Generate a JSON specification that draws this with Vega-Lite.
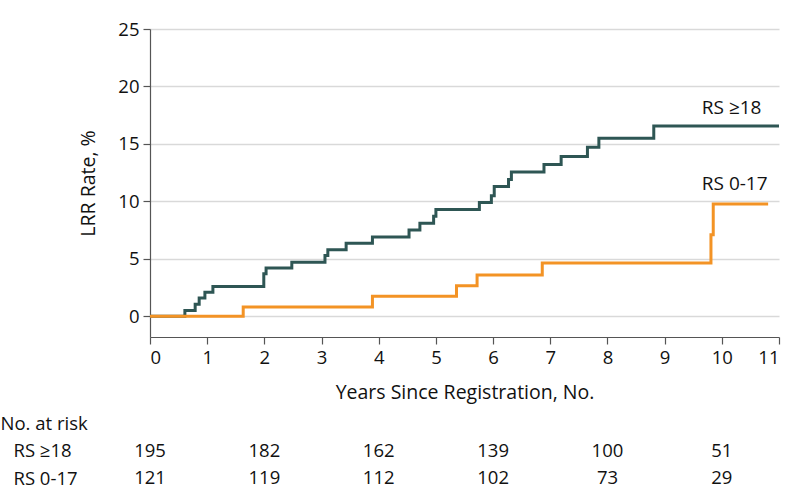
{
  "$schema": "https://vega.github.io/schema/vega-lite/v6.json",
  "padding": {"left": 0, "top": 20, "right": 10, "bottom": 0},
  "background": "white",
  "config": {
    "view": {"stroke": null},
    "font": "Open Sans",
    "axis": {
      "labelFont": "Open Sans",
      "titleFont": "Open Sans",
      "labelFontSize": 18.5,
      "titleFontSize": 19.5,
      "labelColor": "#111111",
      "titleColor": "#111111",
      "titleFontWeight": "normal",
      "domainColor": "#555555",
      "tickColor": "#555555",
      "domainWidth": 1.2,
      "tickWidth": 1.2,
      "tickSize": 7
    },
    "concat": {"spacing": 7.5}
  },
  "datasets": {
    "curves": [
      {"group": "RS ≥18", "year": 0, "rate": 0},
      {"group": "RS ≥18", "year": 0.61, "rate": 0.5},
      {"group": "RS ≥18", "year": 0.79, "rate": 1.05},
      {"group": "RS ≥18", "year": 0.86, "rate": 1.6},
      {"group": "RS ≥18", "year": 0.96, "rate": 2.1},
      {"group": "RS ≥18", "year": 1.1, "rate": 2.6},
      {"group": "RS ≥18", "year": 1.99, "rate": 3.7},
      {"group": "RS ≥18", "year": 2.03, "rate": 4.2},
      {"group": "RS ≥18", "year": 2.48, "rate": 4.7},
      {"group": "RS ≥18", "year": 3.06, "rate": 5.3},
      {"group": "RS ≥18", "year": 3.11, "rate": 5.8},
      {"group": "RS ≥18", "year": 3.43, "rate": 6.35},
      {"group": "RS ≥18", "year": 3.89, "rate": 6.9},
      {"group": "RS ≥18", "year": 4.53, "rate": 7.5},
      {"group": "RS ≥18", "year": 4.72, "rate": 8.1},
      {"group": "RS ≥18", "year": 4.96, "rate": 8.7},
      {"group": "RS ≥18", "year": 5.0, "rate": 9.3},
      {"group": "RS ≥18", "year": 5.76, "rate": 9.9},
      {"group": "RS ≥18", "year": 5.97, "rate": 10.5},
      {"group": "RS ≥18", "year": 6.02, "rate": 11.3},
      {"group": "RS ≥18", "year": 6.27, "rate": 11.9},
      {"group": "RS ≥18", "year": 6.32, "rate": 12.55},
      {"group": "RS ≥18", "year": 6.89, "rate": 13.2},
      {"group": "RS ≥18", "year": 7.19, "rate": 13.9},
      {"group": "RS ≥18", "year": 7.65, "rate": 14.7},
      {"group": "RS ≥18", "year": 7.85, "rate": 15.5},
      {"group": "RS ≥18", "year": 8.81, "rate": 16.55},
      {"group": "RS ≥18", "year": 11, "rate": 16.55},
      {"group": "RS 0-17", "year": 0, "rate": 0},
      {"group": "RS 0-17", "year": 1.63, "rate": 0.82},
      {"group": "RS 0-17", "year": 3.89, "rate": 1.74},
      {"group": "RS 0-17", "year": 5.36, "rate": 2.67},
      {"group": "RS 0-17", "year": 5.72, "rate": 3.6},
      {"group": "RS 0-17", "year": 6.86, "rate": 4.64},
      {"group": "RS 0-17", "year": 9.81, "rate": 7.1},
      {"group": "RS 0-17", "year": 9.85, "rate": 9.77},
      {"group": "RS 0-17", "year": 10.81, "rate": 9.77}
    ],
    "labels": [
      {"label": "RS ≥18", "year": 9.65, "rate": 18.1},
      {"label": "RS 0-17", "year": 9.65, "rate": 11.5}
    ],
    "risk": [
      {"group": "RS ≥18", "year": 0, "n": 195},
      {"group": "RS ≥18", "year": 2, "n": 182},
      {"group": "RS ≥18", "year": 4, "n": 162},
      {"group": "RS ≥18", "year": 6, "n": 139},
      {"group": "RS ≥18", "year": 8, "n": 100},
      {"group": "RS ≥18", "year": 10, "n": 51},
      {"group": "RS 0-17", "year": 0, "n": 121},
      {"group": "RS 0-17", "year": 2, "n": 119},
      {"group": "RS 0-17", "year": 4, "n": 112},
      {"group": "RS 0-17", "year": 6, "n": 102},
      {"group": "RS 0-17", "year": 8, "n": 73},
      {"group": "RS 0-17", "year": 10, "n": 29}
    ]
  },
  "vconcat": [
    {
      "width": 629,
      "height": 308,
      "encoding": {
        "x": {
          "field": "year",
          "type": "quantitative",
          "scale": {"domain": [0, 11], "nice": false},
          "axis": {
            "title": "Years Since Registration, No.",
            "values": [0, 1, 2, 3, 4, 5, 6, 7, 8, 9, 10, 11],
            "grid": false,
            "labelPadding": 4,
            "titlePadding": 17
          }
        },
        "y": {
          "field": "rate",
          "type": "quantitative",
          "scale": {"domain": [-1.8, 25], "nice": false, "zero": false},
          "axis": {
            "title": "LRR Rate, %",
            "values": [0, 5, 10, 15, 20, 25],
            "grid": true,
            "gridColor": "#d9d9d9",
            "gridWidth": 1.5,
            "labelPadding": 4,
            "titlePadding": 19
          }
        }
      },
      "layer": [
        {
          "data": {"name": "curves"},
          "transform": [{"filter": "datum.group === 'RS ≥18'"}],
          "mark": {"type": "line", "interpolate": "step-after", "strokeWidth": 3, "color": "#2e5654"}
        },
        {
          "data": {"name": "curves"},
          "transform": [{"filter": "datum.group === 'RS 0-17'"}],
          "mark": {"type": "line", "interpolate": "step-after", "strokeWidth": 3, "color": "#f39325"}
        },
        {
          "data": {"name": "labels"},
          "mark": {"type": "text", "align": "left", "baseline": "middle", "fontSize": 19, "color": "#111111"},
          "encoding": {"text": {"field": "label"}}
        }
      ]
    },
    {
      "width": 629,
      "height": 82.5,
      "data": {"name": "risk"},
      "mark": {"type": "text", "align": "center", "baseline": "middle", "fontSize": 18.5, "color": "#111111"},
      "encoding": {
        "x": {
          "field": "year",
          "type": "quantitative",
          "scale": {"domain": [0, 11], "nice": false},
          "axis": null
        },
        "y": {
          "field": "group",
          "type": "nominal",
          "scale": {"domain": ["No. at risk", "RS ≥18", "RS 0-17"], "paddingInner": 0, "paddingOuter": 0},
          "axis": {
            "title": null,
            "domain": false,
            "ticks": false,
            "grid": false,
            "labelAlign": "left",
            "labelBaseline": "middle",
            "labelPadding": {"condition": {"test": "datum.value === 'No. at risk'", "value": 150}, "value": 137}
          }
        },
        "text": {"field": "n", "type": "quantitative"}
      }
    }
  ]
}
